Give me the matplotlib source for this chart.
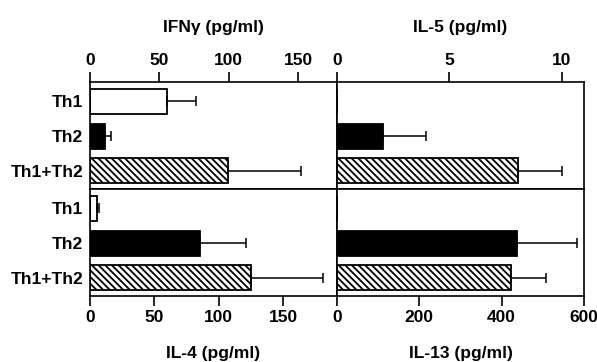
import matplotlib
matplotlib.use("Agg")
import matplotlib.pyplot as plt
import numpy as np

plt.rcParams['font.family'] = ['Liberation Sans', 'DejaVu Sans']
plt.rcParams['font.weight'] = 'bold'
plt.rcParams['font.size'] = 12.5
plt.rcParams['hatch.linewidth'] = 1.3

groups = ['Th1', 'Th2', 'Th1+Th2']

ifng = [55.6, 10.9, 99.8]
ifng_err = [21.0, 4.3, 52.0]
il5 = [0.0, 2.04, 8.04]
il5_err = [0.0, 1.93, 1.96]
il4 = [5.2, 85.5, 124.9]
il4_err = [2.0, 35.7, 56.0]
il13 = [0.0, 437.0, 423.0]
il13_err = [0.0, 146.0, 85.0]

faces = ['white', 'black', 'white']
hatches = ['', '', '\\' * 5]

W, H = 597.0, 362.0
fig = plt.figure(figsize=(W / 100, H / 100), dpi=100)

def panel(x0, x1, y0, y1):
    return fig.add_axes([x0 / W, 1 - y1 / H, (x1 - x0) / W, (y1 - y0) / H])

def draw(ax, vals, errs, xmax, ticks, label, top):
    y = np.arange(len(groups))
    for i in range(len(groups)):
        ax.barh(y[i], vals[i], height=0.72, color=faces[i], edgecolor='black',
                linewidth=1.3, hatch=hatches[i])
        if errs[i] > 0:
            ax.errorbar(vals[i], y[i], xerr=[[0], [errs[i]]], fmt='none',
                        ecolor='black', elinewidth=1.1, capsize=3.5, capthick=1.1)
    ax.set_xlim(0, xmax)
    ax.set_ylim(2.52, -0.56)
    ax.set_xticks(ticks)
    ax.set_xticklabels([str(t) for t in ticks])
    for s in ax.spines.values():
        s.set_linewidth(1.2)
    if top:
        ax.xaxis.set_ticks_position('top')
        ax.xaxis.set_label_position('top')
    else:
        ax.xaxis.set_ticks_position('bottom')
    ax.tick_params(axis='x', direction='out', length=7, width=1.2, pad=3)
    ax.set_xlabel(label, fontweight='bold', labelpad=15)
    ax.tick_params(axis='y', length=0, pad=5)


ax1 = panel(90, 337, 82, 189)
draw(ax1, ifng, ifng_err, 178, [0, 50, 100, 150], 'IFN\u03b3 (pg/ml)', True)
ax1.set_yticks(range(len(groups)))
ax1.set_yticklabels(groups)

ax2 = panel(337, 584, 82, 189)
draw(ax2, il5, il5_err, 11, [0, 5, 10], 'IL-5 (pg/ml)', True)
ax2.set_yticks([])

ax3 = panel(90, 337, 189, 296)
draw(ax3, il4, il4_err, 192, [0, 50, 100, 150], 'IL-4 (pg/ml)', False)
ax3.set_yticks(range(len(groups)))
ax3.set_yticklabels(groups)

ax4 = panel(337, 584, 189, 296)
draw(ax4, il13, il13_err, 600, [0, 200, 400, 600], 'IL-13 (pg/ml)', False)
ax4.set_yticks([])

fig.savefig('out.png', dpi=100)
